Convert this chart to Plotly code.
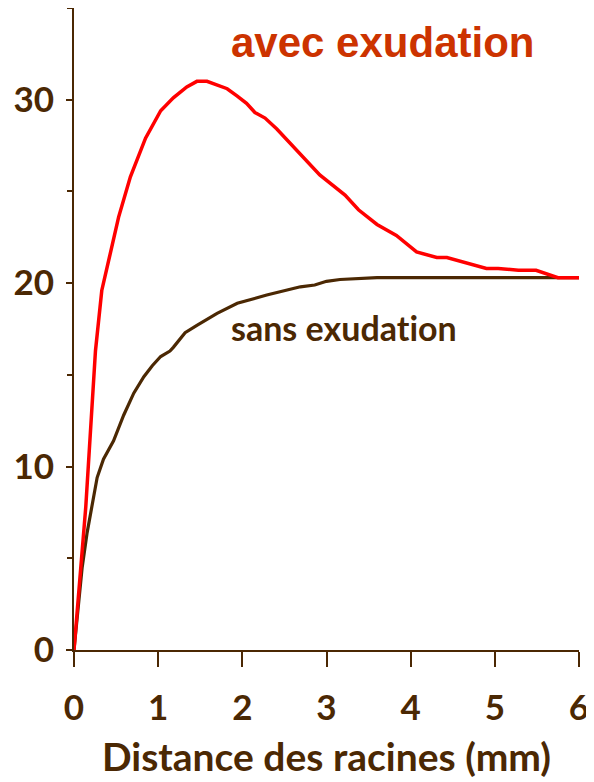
import plotly.graph_objects as go

# distance from roots (mm)
x_avec = [0, 0.14, 0.255, 0.33, 0.43, 0.53, 0.67, 0.85, 1.03, 1.18, 1.34, 1.46, 1.58,
          1.82, 1.94, 2.05, 2.15, 2.27, 2.41, 2.67, 2.92, 3.22, 3.38, 3.60, 3.83,
          4.07, 4.31, 4.43, 4.66, 4.90, 5.04, 5.28, 5.49, 5.75, 6.0]
y_avec = [0, 7.8, 16.3, 19.6, 21.6, 23.6, 25.8, 27.9, 29.4, 30.1, 30.7, 31.0, 31.0,
          30.6, 30.2, 29.8, 29.3, 29.0, 28.4, 27.1, 25.9, 24.8, 24.0, 23.2, 22.6,
          21.7, 21.4, 21.4, 21.1, 20.8, 20.8, 20.7, 20.7, 20.3, 20.3]

x_sans = [0, 0.097, 0.156, 0.215, 0.275, 0.35, 0.47, 0.59, 0.71, 0.83, 0.93, 1.03,
          1.14, 1.18, 1.32, 1.46, 1.70, 1.94, 2.29, 2.69, 2.86, 3.0, 3.16, 3.6,
          4.0, 5.0, 6.0]
y_sans = [0, 4.5, 6.4, 8.0, 9.4, 10.4, 11.4, 12.8, 14.0, 14.9, 15.5, 16.0,
          16.3, 16.5, 17.3, 17.7, 18.35, 18.9, 19.35, 19.8, 19.9, 20.1, 20.2, 20.3,
          20.3, 20.3, 20.3]

x_ticks = [0, 1, 2, 3, 4, 5, 6]
y_ticks = [0, 10, 20, 30]

BROWN = "#4B2803"
RED = "#FF0000"
ZWNJ = "\u200c"  # keeps Lato from drawing the "ti" ligature

fig = go.Figure()
fig.add_trace(go.Scatter(x=x_sans, y=y_sans, mode="lines",
                         line=dict(color=BROWN, width=3.2), name="sans exudation"))
fig.add_trace(go.Scatter(x=x_avec, y=y_avec, mode="lines",
                         line=dict(color=RED, width=3.5), name="avec exudation"))

fig.add_annotation(x=3.67, y=33.1, text="avec exudation", showarrow=False,
                   font=dict(family="Liberation Sans, Arial", size=42,
                             color="#CC3300", weight="bold"))
fig.add_annotation(x=3.21, y=17.6, text="sans exudat" + ZWNJ + "ion", showarrow=False,
                   font=dict(family="Lato", size=34, color=BROWN, weight="bold"))

# page body has an 8px margin, so the figure is a bit smaller than the window
fig.update_layout(
    width=586, height=774,
    margin=dict(l=65.5, r=14.5, t=0, b=132),
    plot_bgcolor="white", paper_bgcolor="white",
    showlegend=False,
    font=dict(family="Lato", color=BROWN),
)
fig.update_xaxes(
    range=[0, 6], tickvals=x_ticks, showgrid=False, zeroline=False,
    showline=True, linecolor=BROWN, linewidth=2, automargin=False,
    ticks="outside", ticklen=15, tickwidth=2, tickcolor=BROWN,
    tickfont=dict(family="Lato", size=35, color=BROWN, weight="bold"),
    ticklabelstandoff=11,
    title=dict(text="Distance des racines (mm)",
               font=dict(family="Lato", size=39, color=BROWN, weight="bold"),
               standoff=18),
)
fig.update_yaxes(
    range=[0, 35], tickvals=y_ticks, showgrid=False, zeroline=False,
    showline=True, linecolor=BROWN, linewidth=2, automargin=False,
    ticks="outside", ticklen=6, tickwidth=2, tickcolor=BROWN,
    tickfont=dict(family="Lato", size=35, color=BROWN, weight="bold"),
    ticklabelstandoff=5,
    minor=dict(tickvals=[5, 15, 25, 35], ticks="outside", ticklen=5,
               tickwidth=2, tickcolor=BROWN, showgrid=False),
)

fig.write_html("out.html")
